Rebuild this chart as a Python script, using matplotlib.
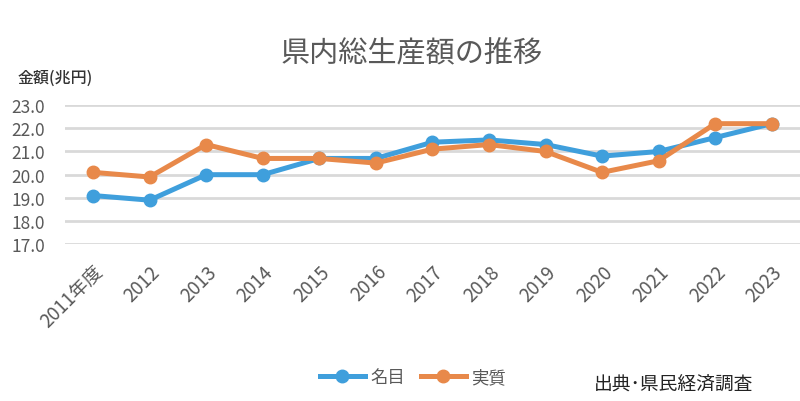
import matplotlib.pyplot as plt

plt.rcParams["font.family"] = ["Noto Sans CJK JP", "DejaVu Sans"]

years = ["2011年度", "2012", "2013", "2014", "2015", "2016", "2017",
         "2018", "2019", "2020", "2021", "2022", "2023"]
nominal = [19.1, 18.9, 20.0, 20.0, 20.7, 20.7, 21.4, 21.5, 21.3, 20.8, 21.0, 21.6, 22.2]
real = [20.1, 19.9, 21.3, 20.7, 20.7, 20.5, 21.1, 21.3, 21.0, 20.1, 20.6, 22.2, 22.2]
yticks = [17.0, 18.0, 19.0, 20.0, 21.0, 22.0, 23.0]

BLUE = "#3f9fdc"
ORANGE = "#e8894a"
GRAY = "#595959"

fig = plt.figure(figsize=(8, 4.02), dpi=100)
ax = fig.add_axes([0.081, 0.39, 0.919, 0.346])

x = list(range(len(years)))
ax.plot(x, nominal, color=BLUE, lw=3.6, marker="o", ms=9, label="名目", zorder=3)
ax.plot(x, real, color=ORANGE, lw=3.6, marker="o", ms=9, label="実質", zorder=4)

ax.set_xlim(-0.5, len(years) - 0.5)
ax.set_ylim(17.0, 23.0)
ax.set_yticks(yticks)
ax.set_yticklabels([f"{v:.1f}" for v in yticks])
ax.set_xticks(x)
ax.set_xticklabels(years, rotation=45, ha="right", rotation_mode="anchor")
ax.tick_params(axis="both", length=0, labelcolor=GRAY)
ax.tick_params(axis="y", pad=14, labelsize=12.5)
ax.tick_params(axis="x", pad=12, labelsize=13.5)
ax.grid(axis="y", color="#d9d9d9", lw=2)
ax.set_axisbelow(True)
for side in ax.spines.values():
    side.set_visible(False)

fig.text(0.515, 0.865, "県内総生産額の推移", ha="center", va="center",
         fontsize=21, color=GRAY)
fig.text(0.022, 0.805, "金額(兆円)", ha="left", va="center",
         fontsize=11.5, color="#333333", fontweight="medium")

ax.legend(loc="center", bbox_to_anchor=(0.516, 0.059), bbox_transform=fig.transFigure,
          ncol=2, frameon=False, fontsize=12.5, handlelength=2.6,
          columnspacing=0.9, handletextpad=0.3, labelcolor=GRAY)

fig.text(0.941, 0.043, "出典･県民経済調査", ha="right", va="center",
         fontsize=13.5, color="#222222")

fig.savefig("out.png", dpi=100)
